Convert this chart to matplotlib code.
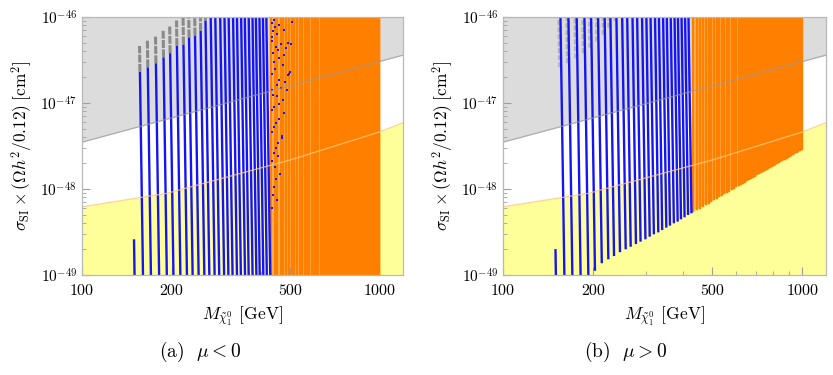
import numpy as np
import matplotlib
matplotlib.use('Agg')
import matplotlib.pyplot as plt
from matplotlib.ticker import FixedLocator, NullFormatter, LogLocator

plt.rcParams['font.family'] = 'serif'
plt.rcParams['font.serif'] = ['cmr10', 'DejaVu Serif']
plt.rcParams['mathtext.fontset'] = 'cm'
plt.rcParams['axes.unicode_minus'] = False
plt.rcParams['axes.formatter.use_mathtext'] = True

# neutralino mass of every blue scan line [GeV]
blue_mass = [148, 158, 168, 179, 190, 200, 211, 222, 232, 243, 254, 264, 275, 285,
             296, 306, 316, 327, 337, 348, 358, 369, 380, 390, 401, 412, 423]
# panel (a): upper end of the blue part, upper end of the grey part [cm^2]
blue_top_a = [2.6e-49, 2.3e-47, 2.6e-47, 2.9e-47, 3.4e-47, 3.8e-47, 4.6e-47, 4.8e-47,
              5.8e-47, 6.1e-47, 6.9e-47, 9.1e-47, 2e-46, 2e-46, 2e-46, 2e-46, 2e-46,
              2e-46, 2e-46, 2e-46, 2e-46, 2e-46, 2e-46, 2e-46, 2e-46, 2e-46, 2e-46]
grey_top_a = [2.6e-49, 4.6e-47, 5.4e-47, 6.1e-47, 6.9e-47, 7.9e-47, 9.1e-47, 2e-46,
              2e-46, 2e-46, 2e-46, 2e-46, 2e-46, 2e-46, 2e-46, 2e-46, 2e-46,
              2e-46, 2e-46, 2e-46, 2e-46, 2e-46, 2e-46, 2e-46, 2e-46, 2e-46, 2e-46]
# panel (b): both ends of the blue lines
blue_top_b = [2.0e-49, 2e-46, 2e-46, 2e-46, 2e-46, 2e-46, 2e-46, 2e-46, 2e-46, 2e-46,
              2e-46, 2e-46, 2e-46, 2e-46, 2e-46, 2e-46, 2e-46, 2e-46, 2e-46, 2e-46,
              2e-46, 2e-46, 2e-46, 2e-46, 2e-46, 2e-46, 2e-46]
blue_bot_b = [1e-50, 1e-50, 1e-50, 1e-50, 1e-50, 1.12e-49, 1.37e-49, 1.52e-49, 1.66e-49,
              1.84e-49, 1.99e-49, 2.13e-49, 2.29e-49, 2.44e-49, 2.60e-49, 2.79e-49,
              2.97e-49, 3.13e-49, 3.33e-49, 3.55e-49, 3.75e-49, 3.99e-49, 4.17e-49,
              4.44e-49, 4.69e-49, 4.99e-49, 5.21e-49]
# panel (b): grey (excluded) points just left of the first blue lines
grey_bot_b = [2e-46, 2.6e-47, 2.9e-47, 3.3e-47, 3.8e-47, 4.4e-47, 5.2e-47, 6.2e-47,
              7.5e-47, 9e-47, 2e-46, 2e-46, 2e-46, 2e-46, 2e-46, 2e-46, 2e-46, 2e-46,
              2e-46, 2e-46, 2e-46, 2e-46, 2e-46, 2e-46, 2e-46, 2e-46, 2e-46]

# orange scan lines [GeV] and their lower end in panel (b)
orange_mass = [433, 444, 454, 465, 475, 486, 496, 507, 518, 528, 539, 549, 560, 570,
               581, 591, 602, 613, 623, 634, 644, 655, 665, 676, 686, 697, 708, 718,
               729, 739, 750, 760, 771, 781, 792, 803, 813, 824, 834, 845, 855, 866,
               876, 887, 898, 908, 919, 929, 940, 950, 961, 971, 982, 993, 1000]
orange_bot_b = [5.53e-49, 5.81e-49, 6.08e-49, 6.37e-49, 6.65e-49, 6.96e-49, 7.25e-49,
                7.58e-49, 7.91e-49, 8.22e-49, 8.56e-49, 8.89e-49, 9.24e-49, 9.58e-49,
                9.95e-49, 1.03e-48, 1.07e-48, 1.11e-48, 1.14e-48, 1.18e-48, 1.22e-48,
                1.26e-48, 1.30e-48, 1.35e-48, 1.39e-48, 1.43e-48, 1.48e-48, 1.52e-48,
                1.57e-48, 1.61e-48, 1.66e-48, 1.70e-48, 1.75e-48, 1.80e-48, 1.85e-48,
                1.90e-48, 1.95e-48, 2.00e-48, 2.05e-48, 2.10e-48, 2.16e-48, 2.21e-48,
                2.26e-48, 2.32e-48, 2.38e-48, 2.43e-48, 2.49e-48, 2.54e-48, 2.60e-48,
                2.66e-48, 2.72e-48, 2.78e-48, 2.84e-48, 2.91e-48, 2.95e-48]

# stray blue points on top of the orange block in panel (a)
dots_mass = [443, 461, 479, 437, 467, 494, 455, 479, 443, 473, 491, 461, 483, 437, 467,
             452, 473, 443, 479, 461, 441, 469, 455, 441, 457, 445, 464, 443, 452, 437,
             435, 447, 440, 452, 436, 449, 438, 458, 447, 436, 452, 440, 458, 436, 448,
             437, 449, 436, 450, 438, 505, 500, 510, 486, 497, 470, 488]
dots_sig = [9.2e-47, 8.1e-47, 7.1e-47, 5.9e-47, 4.9e-47, 5.0e-47, 4.1e-47, 3.6e-47,
            3.0e-47, 2.8e-47, 2.1e-47, 1.85e-47, 1.77e-47, 1.42e-47, 1.48e-47, 1.19e-47,
            1.08e-47, 9.1e-48, 7.6e-48, 6.6e-48, 5.3e-48, 4.1e-48, 3.4e-48, 2.6e-48,
            2.4e-48, 1.8e-48, 1.5e-48, 1.06e-48, 7.4e-49, 6.0e-49,
            8.5e-47, 7.6e-47, 6.8e-47, 6.3e-47, 5.2e-47, 4.5e-47, 3.8e-47, 3.3e-47,
            2.5e-47, 2.2e-47, 1.6e-47, 1.25e-47, 9.8e-48, 8.2e-48, 5.9e-48, 4.6e-48,
            3.0e-48, 2.1e-48, 1.3e-48, 8.6e-49, 4.9e-47, 2.3e-47, 8.8e-47, 4.4e-47,
            2.2e-47, 3.9e-48, 1.4e-47]

# excluded region (grey) and future reach (yellow)
excl_mass = [100, 1200]
excl_sig = [3.5e-48, 3.6e-47]
reach_mass = [100, 193, 500, 1000, 1200]
reach_sig = [6.2e-49, 8.9e-49, 2.17e-48, 4.6e-48, 5.9e-48]

BLUE = '#1414f5'
ORANGE = '#ff8000'
LIGHT_ORANGE = '#ffb75a'
GREY = '#8a8a8a'
YMIN, YMAX = 1e-49, 1e-46


def tilt(m, s):
    """scan lines lean slightly towards lower mass at large cross section"""
    return m * 10 ** (-0.0066 - 0.00437 * (np.log10(s) + 46))


def seg(ax, m, lo, hi, **kw):
    ax.plot([tilt(m, lo), tilt(m, hi)], [lo, hi], solid_capstyle='butt', **kw)


def setup(ax):
    ax.set_xscale('log')
    ax.set_yscale('log')
    ax.set_xlim(100, 1200)
    ax.set_ylim(YMIN, YMAX)
    ax.fill_between(excl_mass, excl_sig, [1e-45, 1e-45], color='#dcdcdc', lw=0, zorder=0)
    ax.fill_between(reach_mass, [1e-50] * len(reach_mass), reach_sig, color='#ffff99',
                    lw=0, zorder=0)
    ax.plot(excl_mass, excl_sig, color='#999999', lw=0.9, alpha=0.7, zorder=6)
    ax.plot(reach_mass, reach_sig, color='#ffc87a', lw=0.9, alpha=0.8, zorder=6)
    ax.xaxis.set_major_locator(FixedLocator([100, 200, 500, 1000]))
    ax.set_xticklabels(['100', '200', '500', '1000'])
    ax.xaxis.set_minor_locator(FixedLocator([300, 400, 600, 700, 800, 900]))
    ax.xaxis.set_minor_formatter(NullFormatter())
    ax.yaxis.set_major_locator(LogLocator(base=10))
    ax.yaxis.set_minor_locator(LogLocator(base=10, subs=np.arange(2, 10)))
    ax.yaxis.set_minor_formatter(NullFormatter())
    ax.tick_params(which='both', direction='in', color='#a0a0a0', labelsize=11,
                   top=False, right=False)
    ax.tick_params(which='major', length=6)
    ax.tick_params(which='minor', length=3)
    ax.tick_params(axis='x', which='major', pad=7, labelsize=11.5)
    for sp in ax.spines.values():
        sp.set_color('#b8b8b8')
        sp.set_linewidth(0.9)
        sp.set_zorder(7)
    ax.set_xlabel(r'$M_{\tilde{\chi}^0_1}$ [GeV]', fontsize=12.5, labelpad=5)
    ax.set_ylabel(r'$\sigma_{\rm SI}\times(\Omega h^2/0.12)\;[{\rm cm}^2]$', fontsize=12.5,
                  labelpad=4)


fig = plt.figure(figsize=(8.33, 3.75), dpi=100)
ax_a = fig.add_axes([0.0984, 0.2667, 0.3854, 0.688])
ax_b = fig.add_axes([0.6038, 0.2667, 0.3878, 0.688])

# panel (a): mu < 0
setup(ax_a)
ax_a.axvspan(orange_mass[0], orange_mass[-1], color=LIGHT_ORANGE, lw=0, zorder=1.5)
for m in orange_mass:
    ax_a.plot([m, m], [1e-50, 2e-46], color=ORANGE, lw=1.75, zorder=2)
for m, top, gtop in zip(blue_mass, blue_top_a, grey_top_a):
    seg(ax_a, m, 1e-50, top, color=BLUE, lw=1.7, zorder=3)
    if gtop > top:
        seg(ax_a, m, top, gtop, color=GREY, lw=2.2, zorder=3, dashes=(2.6, 0.45))
ax_a.plot(dots_mass, dots_sig, 's', color=BLUE, ms=1.7, mew=0, zorder=4)

# panel (b): mu > 0
setup(ax_b)
ax_b.fill_between(orange_mass, orange_bot_b, [2e-46] * len(orange_mass), step='mid',
                  color=LIGHT_ORANGE, lw=0, zorder=1.5)
for m, lo in zip(orange_mass, orange_bot_b):
    ax_b.plot([m, m], [lo, 2e-46], color=ORANGE, lw=1.75, zorder=2)
for m, lo, top, glo in zip(blue_mass, blue_bot_b, blue_top_b, grey_bot_b):
    if glo < top:
        seg(ax_b, m * 0.985, glo, top, color=GREY, lw=1.8, alpha=0.45, zorder=2.5,
            dashes=(2.0, 0.8))
    seg(ax_b, m, lo, top, color=BLUE, lw=1.7, zorder=3)

fig.text(200 / 833, 1 - 352 / 375, r'(a)  $\mu < 0$', ha='center', va='center', fontsize=14)
fig.text(626 / 833, 1 - 352 / 375, r'(b)  $\mu > 0$', ha='center', va='center', fontsize=14)

fig.savefig('out.png', dpi=100)
